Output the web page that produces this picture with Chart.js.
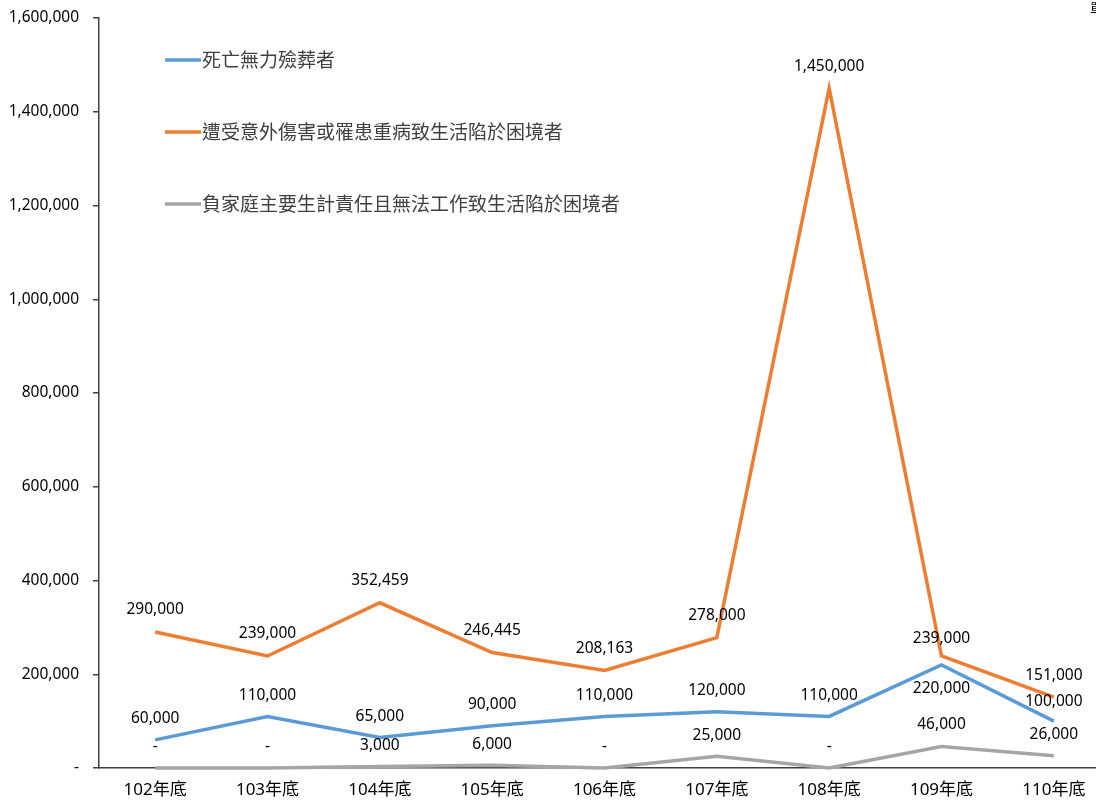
<!DOCTYPE html>
<html>
<head>
<meta charset="utf-8">
<script src="https://cdn.jsdelivr.net/npm/chart.js@4/dist/chart.umd.min.js"></script>
<style>
    html, body { margin: 0; padding: 0; overflow: hidden; background: #fff; }
    #wrap { width: 1110px; height: 800px; }
</style>
</head>
<body>
<div id="wrap"><canvas id="lineChart"></canvas></div>
<script>
const categories = ['102年底', '103年底', '104年底', '105年底', '106年底', '107年底', '108年底', '109年底', '110年底'];
const seriesNames = ['死亡無力殮葬者', '遭受意外傷害或罹患重病致生活陷於困境者', '負家庭主要生計責任且無法工作致生活陷於困境者'];
const funeralValues = [60000, 110000, 65000, 90000, 110000, 120000, 110000, 220000, 100000];
const accidentValues = [290000, 239000, 352459, 246445, 208163, 278000, 1450000, 239000, 151000];
const breadwinnerValues = [0, 0, 3000, 6000, 0, 25000, 0, 46000, 26000];
const yTicks = [0, 200000, 400000, 600000, 800000, 1000000, 1200000, 1400000, 1600000];

const colors = ['#5B9BD5', '#ED7D31', '#A5A5A5'];
const axisColor = '#404040';
const latin = '"Noto Sans", "Noto Sans CJK TC", sans-serif';
const cjk = '"Noto Sans CJK TC", "Noto Sans", sans-serif';

function formatNumber(value) {
    return value === 0 ? '-' : value.toLocaleString('en-US');
}

// label offsets, negative = above the point
const labelOffsets = [
    [-21, -21, -21, -21, -21, -21, -21, 24, -20],
    [-22, -22, -22, -22, -22, -22, -22, -17, -22],
    [-21, -21, -21, -21, -21, -21, -21, -22, -21]
];

const dataLabels = {
    id: 'dataLabels',
    afterDatasetsDraw(chart) {
        const ctx = chart.ctx;
        ctx.save();
        ctx.font = '15.5px ' + latin;
        ctx.fillStyle = '#000';
        ctx.textAlign = 'center';
        ctx.textBaseline = 'middle';
        chart.data.datasets.forEach((ds, i) => {
            const meta = chart.getDatasetMeta(i);
            meta.data.forEach((pt, j) => {
                ctx.fillText(formatNumber(ds.data[j]), pt.x, pt.y + labelOffsets[i][j]);
            });
        });
        ctx.restore();
    }
};

const customLegend = {
    id: 'customLegend',
    afterDraw(chart) {
        const ctx = chart.ctx;
        ctx.save();
        ctx.font = '19px ' + cjk;
        ctx.textBaseline = 'middle';
        ctx.textAlign = 'left';
        chart.data.datasets.forEach((ds, i) => {
            const y = 60 + i * 72;
            ctx.strokeStyle = ds.borderColor;
            ctx.lineWidth = 3.5;
            ctx.beginPath();
            ctx.moveTo(165, y);
            ctx.lineTo(201, y);
            ctx.stroke();
            ctx.fillStyle = '#404040';
            ctx.fillText(ds.label, 202, y);
        });
        // unit note, cut off at the right edge
        ctx.font = '13px ' + cjk;
        ctx.fillStyle = '#000';
        ctx.fillText('單位：元', 1090, 8);
        ctx.restore();
    }
};

const ctx = document.getElementById('lineChart').getContext('2d');

new Chart(ctx, {
    type: 'line',
    data: {
        labels: categories,
        datasets: [
            { label: seriesNames[0], data: funeralValues, borderColor: colors[0], backgroundColor: colors[0] },
            { label: seriesNames[1], data: accidentValues, borderColor: colors[1], backgroundColor: colors[1] },
            { label: seriesNames[2], data: breadwinnerValues, borderColor: colors[2], backgroundColor: colors[2] }
        ].map(ds => Object.assign(ds, { borderWidth: 3.5, pointRadius: 0, tension: 0, clip: false }))
    },
    options: {
        responsive: true,
        maintainAspectRatio: false,
        animation: false,
        layout: { padding: { top: 18, right: 0, left: 0, bottom: 0 } },
        plugins: {
            legend: { display: false },
            tooltip: { enabled: false }
        },
        scales: {
            x: {
                offset: true,
                grid: { display: false, drawTicks: false },
                border: { display: true, color: axisColor, width: 1.5 },
                ticks: {
                    color: '#000',
                    font: { size: 17, family: latin },
                    padding: 12,
                    maxRotation: 0
                },
                afterFit(scale) { scale.height = 32; }
            },
            y: {
                min: 0,
                max: 1600000,
                afterBuildTicks(scale) { scale.ticks = yTicks.map(v => ({ value: v })); },
                grid: { drawOnChartArea: false, drawTicks: true, tickLength: 6, color: axisColor, lineWidth: 1.5 },
                border: { display: true, color: axisColor, width: 1.5 },
                ticks: {
                    color: '#000',
                    font: { size: 15.5, family: latin },
                    padding: 14,
                    callback: function (value) { return formatNumber(value); }
                },
                afterFit(scale) {
                    scale.width = 99;
                    scale.paddingTop = 0;
                    scale.paddingBottom = 0;
                }
            }
        }
    },
    plugins: [dataLabels, customLegend]
});
</script>
</body>
</html>
